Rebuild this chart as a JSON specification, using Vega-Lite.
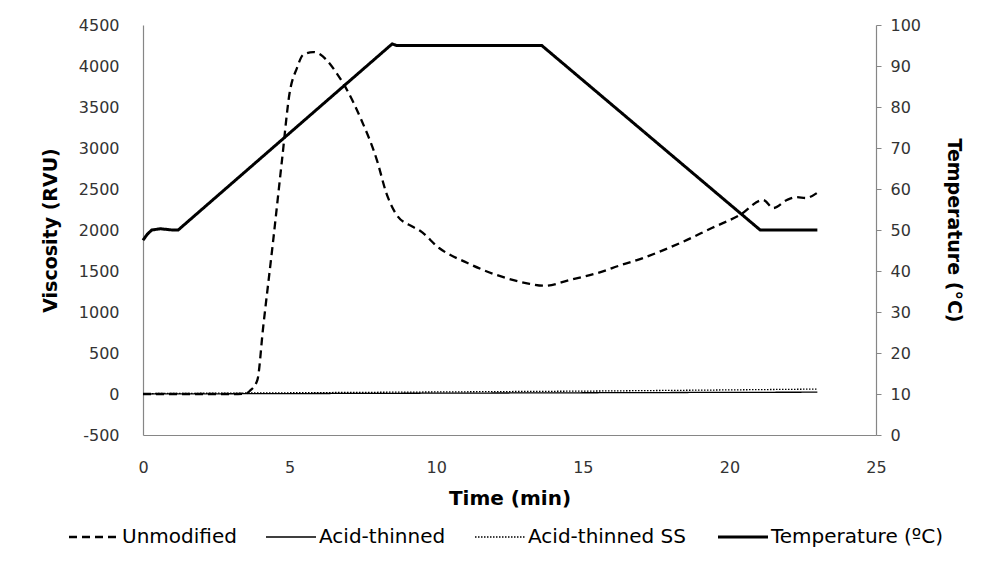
{
  "$schema": "https://vega.github.io/schema/vega-lite/v6.json",
  "width": 733,
  "height": 410,
  "autosize": {"type": "none"},
  "padding": {"left": 143, "top": 25, "right": 110, "bottom": 133},
  "background": "white",
  "config": {
    "font": "DejaVu Sans",
    "view": {"stroke": null},
    "axis": {
      "grid": false,
      "domainColor": "#868686",
      "domainWidth": 1.2,
      "tickColor": "#868686",
      "labelColor": "#333333",
      "labelFontSize": 16,
      "titleFontSize": 19,
      "titleFontWeight": "bold",
      "titleColor": "#000000",
      "labelExpr": "toString(datum.value)",
      "labelFlush": false
    },
    "legend": {
      "labelFontSize": 20,
      "labelColor": "#000000",
      "labelLimit": 400
    }
  },
  "datasets": {
    "visc": [
      {"t": 0, "series": "Unmodified", "v": 0},
      {"t": 1, "series": "Unmodified", "v": 0},
      {"t": 2, "series": "Unmodified", "v": 0},
      {"t": 3, "series": "Unmodified", "v": 0},
      {"t": 3.5, "series": "Unmodified", "v": 5},
      {"t": 3.65, "series": "Unmodified", "v": 40},
      {"t": 3.9, "series": "Unmodified", "v": 170},
      {"t": 4.1, "series": "Unmodified", "v": 820},
      {"t": 4.43, "series": "Unmodified", "v": 1840},
      {"t": 4.74, "series": "Unmodified", "v": 2850},
      {"t": 5.0, "series": "Unmodified", "v": 3670},
      {"t": 5.25, "series": "Unmodified", "v": 3975},
      {"t": 5.46, "series": "Unmodified", "v": 4135},
      {"t": 5.8, "series": "Unmodified", "v": 4170},
      {"t": 6.05, "series": "Unmodified", "v": 4140},
      {"t": 6.27, "series": "Unmodified", "v": 4070},
      {"t": 6.6, "series": "Unmodified", "v": 3915},
      {"t": 7.0, "series": "Unmodified", "v": 3680},
      {"t": 7.4, "series": "Unmodified", "v": 3380},
      {"t": 7.98, "series": "Unmodified", "v": 2850},
      {"t": 8.3, "series": "Unmodified", "v": 2450},
      {"t": 8.66, "series": "Unmodified", "v": 2180},
      {"t": 9.2, "series": "Unmodified", "v": 2040},
      {"t": 9.45, "series": "Unmodified", "v": 1990},
      {"t": 10.1, "series": "Unmodified", "v": 1780},
      {"t": 11.05, "series": "Unmodified", "v": 1600},
      {"t": 12.07, "series": "Unmodified", "v": 1450},
      {"t": 13.1, "series": "Unmodified", "v": 1350},
      {"t": 13.7, "series": "Unmodified", "v": 1320},
      {"t": 14.56, "series": "Unmodified", "v": 1390},
      {"t": 15.8, "series": "Unmodified", "v": 1510},
      {"t": 16.0, "series": "Unmodified", "v": 1536},
      {"t": 17.05, "series": "Unmodified", "v": 1658},
      {"t": 18.4, "series": "Unmodified", "v": 1854},
      {"t": 19.4, "series": "Unmodified", "v": 2024},
      {"t": 20.36, "series": "Unmodified", "v": 2183},
      {"t": 21.15, "series": "Unmodified", "v": 2366},
      {"t": 21.5, "series": "Unmodified", "v": 2268},
      {"t": 21.96, "series": "Unmodified", "v": 2366},
      {"t": 22.3, "series": "Unmodified", "v": 2400},
      {"t": 22.6, "series": "Unmodified", "v": 2390},
      {"t": 22.98, "series": "Unmodified", "v": 2450},
      {"t": 0, "series": "Acid-thinned", "v": 0},
      {"t": 5, "series": "Acid-thinned", "v": 5},
      {"t": 10, "series": "Acid-thinned", "v": 10},
      {"t": 15, "series": "Acid-thinned", "v": 15},
      {"t": 20, "series": "Acid-thinned", "v": 20},
      {"t": 23, "series": "Acid-thinned", "v": 22},
      {"t": 0, "series": "Acid-thinned SS", "v": 5},
      {"t": 5, "series": "Acid-thinned SS", "v": 15},
      {"t": 10, "series": "Acid-thinned SS", "v": 25},
      {"t": 15, "series": "Acid-thinned SS", "v": 35},
      {"t": 20, "series": "Acid-thinned SS", "v": 50},
      {"t": 23, "series": "Acid-thinned SS", "v": 60}
    ],
    "temp": [
      {"t": 0, "series": "Temperature (ºC)", "temp": 47.5},
      {"t": 0.15, "series": "Temperature (ºC)", "temp": 49},
      {"t": 0.3, "series": "Temperature (ºC)", "temp": 50},
      {"t": 0.6, "series": "Temperature (ºC)", "temp": 50.3},
      {"t": 1.0, "series": "Temperature (ºC)", "temp": 50},
      {"t": 1.2, "series": "Temperature (ºC)", "temp": 50},
      {"t": 8.5, "series": "Temperature (ºC)", "temp": 95.4},
      {"t": 8.65, "series": "Temperature (ºC)", "temp": 95},
      {"t": 13.6, "series": "Temperature (ºC)", "temp": 95},
      {"t": 21.05, "series": "Temperature (ºC)", "temp": 50},
      {"t": 23, "series": "Temperature (ºC)", "temp": 50}
    ]
  },
  "layer": [
    {
      "data": {"name": "visc"},
      "encoding": {
        "x": {
          "field": "t", "type": "quantitative",
          "scale": {"domain": [0, 25], "nice": false, "zero": false},
          "axis": {"title": "Time (min)", "values": [0, 5, 10, 15, 20, 25], "ticks": false, "labelPadding": 24, "titlePadding": 13, "titleFontSize": 20}
        },
        "y": {
          "field": "v", "type": "quantitative",
          "scale": {"domain": [-500, 4500], "nice": false, "zero": false},
          "axis": {"title": "Viscosity (RVU)", "orient": "left", "values": [-500, 0, 500, 1000, 1500, 2000, 2500, 3000, 3500, 4000, 4500], "ticks": false, "labelPadding": 24, "titlePadding": 18}
        },
        "strokeDash": {
          "field": "series", "type": "nominal",
          "scale": {"domain": ["Unmodified", "Acid-thinned", "Acid-thinned SS", "Temperature (ºC)"], "range": [[8, 5], [1, 0], [1.5, 1.5], [1, 0]]},
          "legend": {
            "title": null, "orient": "none", "legendX": -59, "legendY": 502, "direction": "horizontal",
            "symbolType": "stroke", "symbolSize": 2500, "symbolStrokeColor": "#000000",
            "columnPadding": 26, "labelOffset": 18,
            "encode": {"symbols": {"update": {"strokeWidth": {"signal": "datum.value === 'Temperature (ºC)' ? 3 : (datum.value === 'Unmodified' ? 2.3 : 1.4)"}}}}
          }
        }
      },
      "layer": [
        {
          "transform": [{"filter": "datum.series === 'Unmodified'"}],
          "mark": {"type": "line", "color": "#000000", "strokeWidth": 2.3, "interpolate": "monotone"}
        },
        {
          "transform": [{"filter": "datum.series !== 'Unmodified'"}],
          "mark": {"type": "line", "color": "#000000", "strokeWidth": 1.3}
        }
      ]
    },
    {
      "data": {"name": "temp"},
      "mark": {"type": "line", "color": "#000000", "strokeWidth": 3},
      "encoding": {
        "x": {"field": "t", "type": "quantitative"},
        "y": {
          "field": "temp", "type": "quantitative",
          "scale": {"domain": [0, 100], "nice": false, "zero": false},
          "axis": {"title": "Temperature (°C)", "orient": "right", "values": [0, 10, 20, 30, 40, 50, 60, 70, 80, 90, 100], "ticks": true, "tickSize": 5, "labelPadding": 9, "titlePadding": 23}
        },
        "strokeDash": {"field": "series", "type": "nominal"}
      }
    }
  ],
  "resolve": {"scale": {"y": "independent"}}
}
